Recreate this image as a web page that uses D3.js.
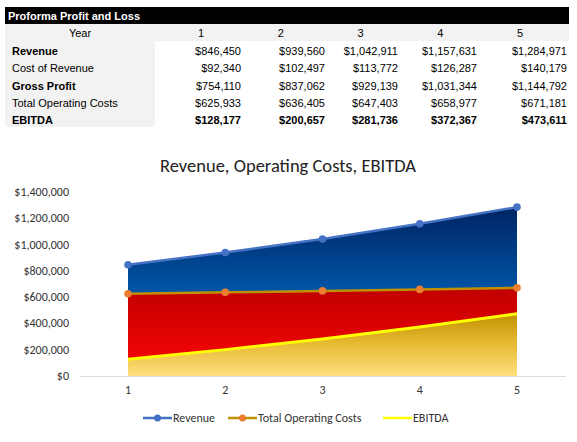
<!DOCTYPE html>
<html>
<head>
  <meta charset="utf-8">
  <script src="https://cdn.jsdelivr.net/npm/d3@7"></script>
  <style>
    body { margin: 0; background: #fff; }
    svg text { fill: #000; }
  </style>
</head>
<body>
<div id="chart"></div>
<script>
  const years = [1, 2, 3, 4, 5];
  const rowLabels = ['Revenue', 'Cost of Revenue', 'Gross Profit', 'Total Operating Costs', 'EBITDA'];
  const boldRows = ['Revenue', 'Gross Profit', 'EBITDA'];
  const revenue = [846450, 939560, 1042911, 1157631, 1284971];
  const costOfRevenue = [92340, 102497, 113772, 126287, 140179];
  const grossProfit = [754110, 837062, 929139, 1031344, 1144792];
  const opCosts = [625933, 636405, 647403, 658977, 671181];
  const ebitda = [128177, 200657, 281736, 372367, 473611];
  const yTicks = [0, 200000, 400000, 600000, 800000, 1000000, 1200000, 1400000];

  const tableRows = [revenue, costOfRevenue, grossProfit, opCosts, ebitda];

  const w = 577, h = 442;
  const svg = d3.select('#chart').append('svg')
    .attr('width', w)
    .attr('height', h);

  // ---- table ----
  const tFont = 'Arial, "Liberation Sans", sans-serif';
  const tbl = svg.append('g').style('font-family', tFont).style('font-size', '11px');

  tbl.append('rect').attr('x', 5).attr('y', 7).attr('width', 564).attr('height', 17).attr('fill', '#000');
  tbl.append('text').attr('x', 8).attr('y', 20)
    .style('font-weight', 'bold').style('fill', '#fff')
    .text('Proforma Profit and Loss');

  tbl.append('rect').attr('x', 5).attr('y', 24).attr('width', 564).attr('height', 17).attr('fill', '#f2f2f2');
  tbl.append('rect').attr('x', 5).attr('y', 41).attr('width', 150).attr('height', 86).attr('fill', '#f2f2f2');

  tbl.append('text').attr('x', 80).attr('y', 37).attr('text-anchor', 'middle').text('Year');

  const colCenter = d3.scalePoint().domain(years).range([201, 520]);
  const colRight = [241, 325, 398, 477, 567];
  const rowY = d3.scaleLinear().domain([0, 4]).range([55, 124]);

  tbl.selectAll('.yr').data(years).enter().append('text')
    .attr('x', d => colCenter(d)).attr('y', 37)
    .attr('text-anchor', 'middle').text(d => d);

  const money = d3.format('$,');
  rowLabels.forEach((lab, i) => {
    const bold = boldRows.includes(lab);
    tbl.append('text').attr('x', 12).attr('y', rowY(i))
      .style('font-weight', bold ? 'bold' : 'normal').text(lab);
    tbl.selectAll('.v' + i).data(tableRows[i]).enter().append('text')
      .attr('x', (d, j) => colRight[j]).attr('y', rowY(i))
      .attr('text-anchor', 'end')
      .style('font-weight', i === 4 ? 'bold' : 'normal')
      .text(d => money(d));
  });

  // ---- chart ----
  const cFont = 'Carlito, Calibri, Lato, "Open Sans", sans-serif';
  const chart = svg.append('g').style('font-family', cFont);

  chart.append('text').attr('x', 288).attr('y', 172)
    .attr('text-anchor', 'middle').style('font-size', '18.5px').style('fill', '#222')
    .text('Revenue, Operating Costs, EBITDA');

  const x = d3.scalePoint().domain(years).range([128, 517]);
  const y = d3.scaleLinear().domain([0, 1400000]).range([376, 192]);

  const defs = svg.append('defs');
  function grad(id, stops) {
    const g = defs.append('linearGradient').attr('id', id)
      .attr('x1', 0).attr('y1', 0).attr('x2', 0).attr('y2', 1);
    stops.forEach(s => g.append('stop').attr('offset', s[0]).attr('stop-color', s[1]));
  }
  grad('gBlue', [[0, '#002463'], [0.5, '#0055a6'], [1, '#1f6fc2']]);
  grad('gRed', [[0, '#c00000'], [1, '#ff0505']]);
  grad('gGold', [[0, '#bf9000'], [0.45, '#e6b830'], [1, '#ffdf7e']]);

  const area = vals => d3.area()
    .x((d, i) => x(years[i]))
    .y0(y(0))
    .y1(d => y(d))(vals);

  chart.append('path').attr('d', area(revenue)).attr('fill', 'url(#gBlue)');
  chart.append('path').attr('d', area(opCosts)).attr('fill', 'url(#gRed)');
  chart.append('path').attr('d', area(ebitda)).attr('fill', 'url(#gGold)');

  // y axis labels
  chart.selectAll('.ytick').data(yTicks).enter().append('text')
    .attr('x', 69).attr('y', d => y(d) + 4)
    .attr('text-anchor', 'end').style('font-size', '12px').style('fill', '#333')
    .text(d => money(d));

  // x axis
  chart.append('line').attr('x1', 80).attr('x2', 566)
    .attr('y1', y(0) + 0.5).attr('y2', y(0) + 0.5)
    .attr('stroke', '#d9d9d9').attr('stroke-width', 1);
  chart.selectAll('.xtick').data(years).enter().append('text')
    .attr('x', d => x(d)).attr('y', 394)
    .attr('text-anchor', 'middle').style('font-size', '12px').style('fill', '#333')
    .text(d => d);

  const line = vals => d3.line().x((d, i) => x(years[i])).y(d => y(d))(vals);

  chart.append('path').attr('d', line(ebitda)).attr('fill', 'none')
    .attr('stroke', '#ffff00').attr('stroke-width', 3);
  chart.append('path').attr('d', line(opCosts)).attr('fill', 'none')
    .attr('stroke', '#bf9000').attr('stroke-width', 2.5);
  chart.append('path').attr('d', line(revenue)).attr('fill', 'none')
    .attr('stroke', '#4472c4').attr('stroke-width', 2.5);

  chart.selectAll('.mOp').data(opCosts).enter().append('circle')
    .attr('cx', (d, i) => x(years[i])).attr('cy', d => y(d)).attr('r', 3.8)
    .attr('fill', '#ed7d31');
  chart.selectAll('.mRev').data(revenue).enter().append('circle')
    .attr('cx', (d, i) => x(years[i])).attr('cy', d => y(d)).attr('r', 3.8)
    .attr('fill', '#4472c4');

  // legend
  const legend = [
    { name: 'Revenue', line: '#4472c4', marker: '#4472c4', x: 143 },
    { name: 'Total Operating Costs', line: '#bf9000', marker: '#ed7d31', x: 228 },
    { name: 'EBITDA', line: '#ffff00', marker: null, x: 383 }
  ];
  const lg = chart.append('g');
  legend.forEach(d => {
    lg.append('line').attr('x1', d.x).attr('x2', d.x + 29).attr('y1', 418).attr('y2', 418)
      .attr('stroke', d.line).attr('stroke-width', 2.5);
    if (d.marker) {
      lg.append('circle').attr('cx', d.x + 14.5).attr('cy', 418).attr('r', 3.5).attr('fill', d.marker);
    }
    lg.append('text').attr('x', d.x + 30).attr('y', 422)
      .style('font-size', '12px').style('fill', '#333').text(d.name);
  });
</script>
</body>
</html>
